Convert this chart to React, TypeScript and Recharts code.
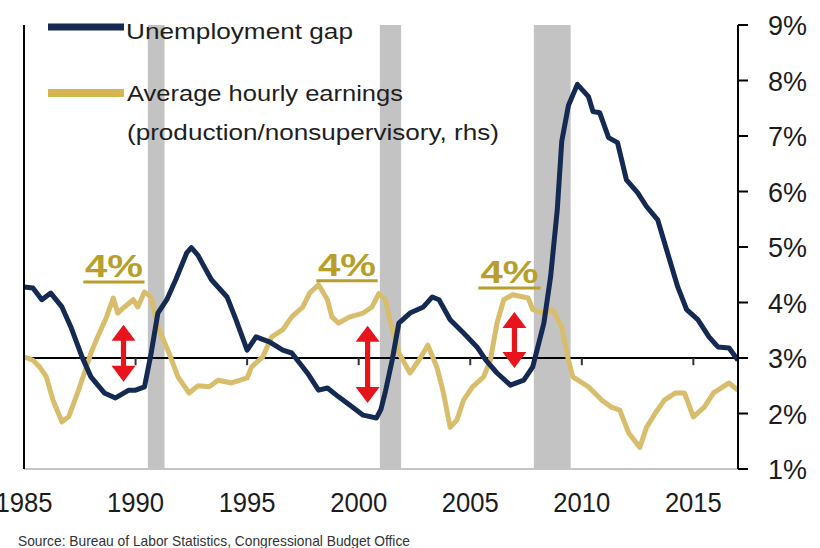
import React from "react";
import {
    LineChart, Line, XAxis, YAxis, ReferenceArea, ReferenceLine
} from "recharts";

const NAVY = '#142a52';
const GOLD = '#d8bd6c';
const DARK_GOLD = '#b89f2c';
const ARROW_RED = '#e8141b';
const FONT = 'Liberation Sans, Arial, sans-serif';

// unemployment gap (lhs, pp)
const gapYears = [
    1985.0, 1985.4, 1985.8, 1986.2, 1986.7, 1987.1, 1987.6, 1988.0, 1988.6, 1989.1,
    1989.7, 1990.0, 1990.4, 1990.7, 1991.0, 1991.4, 1991.8, 1992.3, 1992.5, 1992.8,
    1993.0, 1993.4, 1994.1, 1994.5, 1995.0, 1995.4, 1996.0, 1996.6, 1997.0, 1997.7,
    1998.2, 1998.6, 1999.1, 1999.7, 2000.2, 2000.8, 2001.0, 2001.2, 2001.5, 2001.8,
    2002.3, 2002.9, 2003.3, 2003.6, 2004.1, 2004.7, 2005.3, 2005.7, 2006.2, 2006.8,
    2007.4, 2007.8, 2008.3, 2008.6, 2008.9, 2009.1, 2009.4, 2009.8, 2010.3, 2010.5,
    2010.8, 2011.2, 2011.6, 2012.0, 2012.5, 2012.9, 2013.4, 2013.8, 2014.3, 2014.7,
    2015.2, 2015.7, 2016.1, 2016.6, 2017.0,
];
const gapValues = [
    1.28, 1.26, 1.05, 1.17, 0.92, 0.56, 0.02, -0.34, -0.63, -0.72,
    -0.58, -0.58, -0.52, 0.09, 0.81, 1.05, 1.41, 1.90, 1.99, 1.85,
    1.70, 1.41, 1.10, 0.69, 0.14, 0.38, 0.29, 0.14, 0.09, -0.27,
    -0.58, -0.54, -0.70, -0.88, -1.03, -1.08, -0.92, -0.60, -0.04, 0.63,
    0.81, 0.92, 1.10, 1.05, 0.69, 0.45, 0.20, -0.04, -0.27, -0.49,
    -0.40, -0.16, 0.63, 1.46, 2.67, 3.90, 4.55, 4.93, 4.71, 4.44,
    4.42, 3.97, 3.88, 3.21, 2.98, 2.73, 2.49, 1.95, 1.28, 0.87,
    0.69, 0.38, 0.20, 0.18, -0.04,
];

// average hourly earnings growth (rhs, %)
const ahYears = [
    1985.0, 1985.4, 1985.7, 1986.0, 1986.3, 1986.7, 1987.0, 1987.4, 1987.8, 1988.0,
    1988.3, 1988.7, 1989.0, 1989.2, 1989.5, 1989.9, 1990.1, 1990.4, 1990.7, 1991.0,
    1991.5, 1991.9, 1992.4, 1992.8, 1993.3, 1993.7, 1994.3, 1995.0, 1995.2, 1995.7,
    1996.1, 1996.6, 1997.0, 1997.5, 1997.8, 1998.2, 1998.6, 1998.8, 1999.1, 1999.6,
    2000.2, 2000.6, 2000.9, 2001.2, 2001.4, 2001.8, 2002.3, 2002.7, 2003.1, 2003.5,
    2003.8, 2004.1, 2004.4, 2004.7, 2005.1, 2005.6, 2005.9, 2006.2, 2006.5, 2006.9,
    2007.6, 2007.8, 2008.3, 2008.7, 2009.1, 2009.4, 2009.6, 2010.3, 2010.9, 2011.3,
    2011.7, 2012.1, 2012.6, 2012.9, 2013.3, 2013.7, 2014.2, 2014.6, 2015.0, 2015.5,
    2015.9, 2016.6, 2017.0,
];
const ahValues = [
    3.02, 2.96, 2.84, 2.66, 2.24, 1.85, 1.94, 2.37, 2.84, 3.09,
    3.38, 3.74, 4.08, 3.81, 3.92, 4.05, 3.92, 4.19, 4.10, 3.56,
    3.09, 2.66, 2.37, 2.50, 2.48, 2.60, 2.55, 2.64, 2.84, 3.02,
    3.38, 3.51, 3.74, 3.92, 4.17, 4.32, 4.05, 3.74, 3.63, 3.74,
    3.81, 3.92, 4.16, 4.05, 3.69, 3.09, 2.73, 2.96, 3.23, 2.84,
    2.37, 1.75, 1.88, 2.24, 2.48, 2.66, 2.96, 3.63, 4.05, 4.14,
    4.08, 3.87, 3.81, 3.87, 3.56, 2.96, 2.66, 2.48, 2.24, 2.12,
    2.06, 1.65, 1.39, 1.75, 2.01, 2.24, 2.37, 2.37, 1.94, 2.12,
    2.37, 2.55, 2.42,
];

const recessionStart = [1990.55, 2000.95, 2007.85];
const recessionEnd = [1991.3, 2001.9, 2009.5];

const xTicks = [1985, 1990, 1995, 2000, 2005, 2010, 2015];
const zeroLineTicks = [1990, 1995, 2000, 2005, 2010, 2015];
const rhsTicks = [1, 2, 3, 4, 5, 6, 7, 8, 9];

// "4%" call-outs: underline span (years) and level (rhs)
const noteFrom = [1987.66, 1998.1, 2005.36];
const noteTo = [1990.4, 2000.85, 2008.15];
const noteLevel = [4.37, 4.39, 4.26];

// red double arrows: year, top and bottom (rhs)
const arrowYear = [1989.46, 2000.4, 2006.98];
const arrowTop = [3.6, 3.58, 3.83];
const arrowBottom = [2.57, 2.19, 2.82];

const gapData = gapYears.map((year, i) => ({ year, gap: gapValues[i] }));
const ahData = ahYears.map((year, i) => ({ year, ahe: ahValues[i] }));

function YearTick({ x, y, payload }: any) {
    return (
        <text x={x} y={y + 43} textAnchor="middle" fontFamily={FONT} fontSize={28} fill="#1c1c1c"
            textLength={57} lengthAdjust="spacingAndGlyphs">
            {payload.value}
        </text>
    );
}

function PctTick({ x, y, payload }: any) {
    return (
        <text x={x} y={y + 10} textAnchor="start" fontFamily={FONT} fontSize={28} fill="#1c1c1c"
            textLength={39} lengthAdjust="spacingAndGlyphs">
            {payload.value}%
        </text>
    );
}

function DoubleArrow(props: any) {
    const { x1, y1, y2 } = props;
    const cx = x1;
    const top = Math.min(y1, y2);
    const bot = Math.max(y1, y2);
    const hw = 12, hl = 16, sw = 2.6;
    const d = `M${cx},${top} L${cx + hw},${top + hl} L${cx + sw},${top + hl} L${cx + sw},${bot - hl} L${cx + hw},${bot - hl} L${cx},${bot} L${cx - hw},${bot - hl} L${cx - sw},${bot - hl} L${cx - sw},${top + hl} L${cx - hw},${top + hl} Z`;
    return <path d={d} fill={ARROW_RED} />;
}

const noteLabel = ({ viewBox }: any) => (
    <text x={viewBox.x + viewBox.width / 2} y={viewBox.y - 5} textAnchor="middle" fontFamily={FONT}
        fontWeight="bold" fontSize={31} fill={DARK_GOLD} textLength={58} lengthAdjust="spacingAndGlyphs">
        4%
    </text>
);

export default function App() {
    return (
        <div style={{ position: 'relative', width: 820, height: 548, background: '#fff' }}>
            <style>{`body{margin:0}`}</style>
            <LineChart width={820} height={548} margin={{ top: 25, right: 0, bottom: 0, left: 0 }}>
                <XAxis dataKey="year" type="number" domain={[1985, 2017]} ticks={xTicks} allowDataOverflow
                    height={79} tickSize={0} tickMargin={0} tickLine={false}
                    axisLine={{ stroke: '#c4c4c4', strokeWidth: 2 }} tick={<YearTick />} />
                <YAxis yAxisId="left" orientation="left" domain={[-2, 6]} width={24} tick={false}
                    tickLine={false} axisLine={{ stroke: '#000', strokeWidth: 2 }} />
                <YAxis yAxisId="right" orientation="right" domain={[1, 9]} ticks={rhsTicks} width={82}
                    tickSize={10} tickMargin={20} axisLine={{ stroke: '#000', strokeWidth: 2 }}
                    tickLine={{ stroke: '#000', strokeWidth: 2 }} tick={<PctTick />} />

                {recessionStart.map((s, i) => (
                    <ReferenceArea key={`rec-${i}`} yAxisId="right" x1={s} x2={recessionEnd[i]} y1={1} y2={9}
                        fill="#c3c3c3" fillOpacity={1} stroke="none" />
                ))}

                <ReferenceLine yAxisId="right" y={3} stroke="#000" strokeWidth={2} />
                {zeroLineTicks.map((t) => (
                    <ReferenceLine key={`zt-${t}`} yAxisId="right" segment={[{ x: t, y: 3 }, { x: t, y: 2.87 }]}
                        stroke="#333" strokeWidth={2} />
                ))}

                <Line yAxisId="right" data={ahData} dataKey="ahe" type="linear" stroke={GOLD} strokeWidth={5}
                    dot={false} isAnimationActive={false} strokeLinejoin="round" />
                <Line yAxisId="left" data={gapData} dataKey="gap" type="linear" stroke={NAVY} strokeWidth={5}
                    dot={false} isAnimationActive={false} strokeLinejoin="round" />

                {noteFrom.map((f, i) => (
                    <ReferenceLine key={`note-${i}`} yAxisId="right"
                        segment={[{ x: f, y: noteLevel[i] }, { x: noteTo[i], y: noteLevel[i] }]}
                        stroke={DARK_GOLD} strokeWidth={3} label={noteLabel} />
                ))}
                {arrowYear.map((yr, i) => (
                    <ReferenceLine key={`arr-${i}`} yAxisId="right"
                        segment={[{ x: yr, y: arrowTop[i] }, { x: yr, y: arrowBottom[i] }]}
                        shape={<DoubleArrow />} />
                ))}
            </LineChart>

            <svg width={820} height={548} style={{ position: 'absolute', left: 0, top: 0, pointerEvents: 'none' }}>
                <line x1={48} y1={27} x2={124} y2={27} stroke={NAVY} strokeWidth={7} />
                <text x={126} y={39} fontFamily={FONT} fontSize={22} fill="#1e1e1e" textLength={227}
                    lengthAdjust="spacingAndGlyphs">Unemployment gap</text>
                <line x1={48} y1={93} x2={124} y2={93} stroke="#d4b54e" strokeWidth={8} />
                <text x={127} y={101} fontFamily={FONT} fontSize={22} fill="#1e1e1e" textLength={276}
                    lengthAdjust="spacingAndGlyphs">Average hourly earnings</text>
                <text x={127} y={140} fontFamily={FONT} fontSize={22} fill="#1e1e1e" textLength={372}
                    lengthAdjust="spacingAndGlyphs">(production/nonsupervisory, rhs)</text>
                <text x={18} y={546} fontFamily={FONT} fontSize={15} fill="#333" textLength={392}
                    lengthAdjust="spacingAndGlyphs">Source: Bureau of Labor Statistics, Congressional Budget Office</text>
            </svg>
        </div>
    );
}
